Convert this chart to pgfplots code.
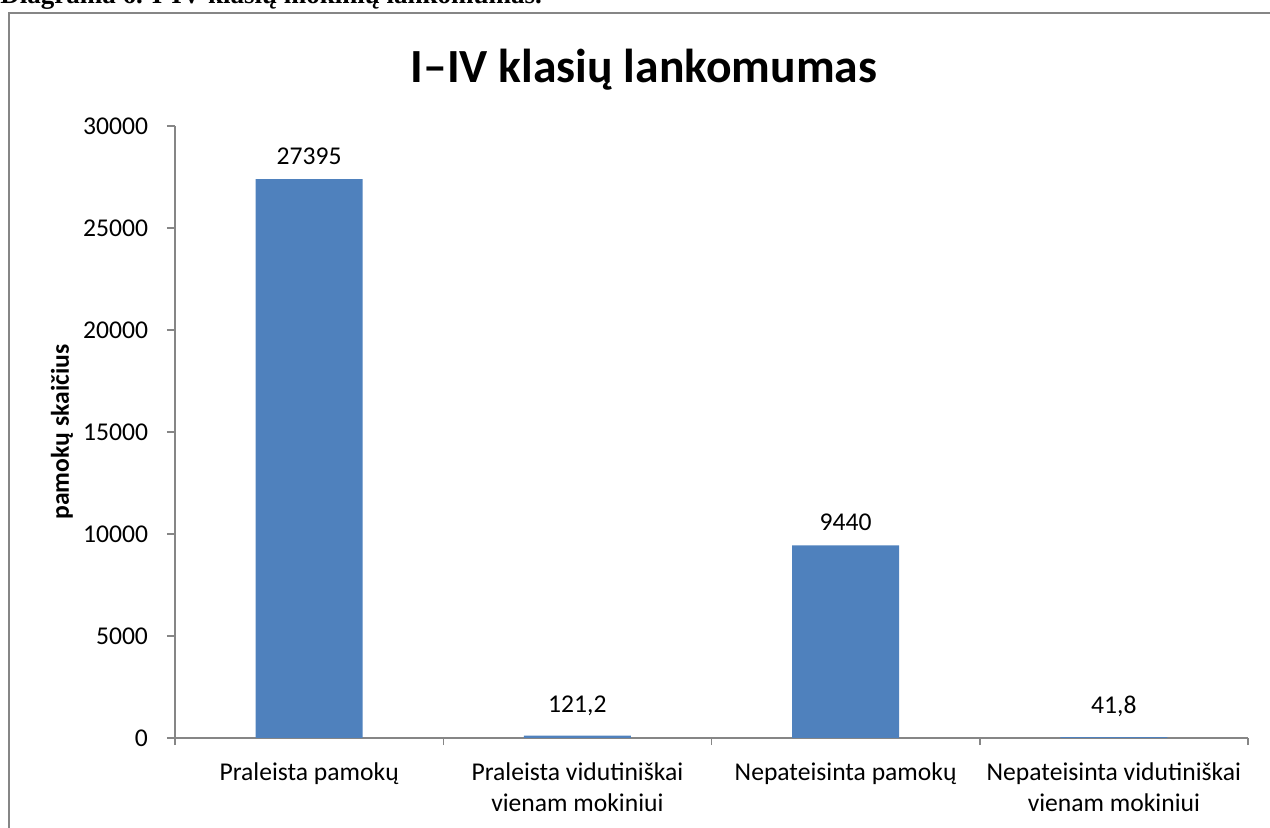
\documentclass[border=0pt]{standalone}
\usepackage{pgfplots}
\pgfplotsset{compat=1.18}
\usepackage{fontspec}
\setmainfont{Carlito}
\newfontfamily\serifb{Liberation Serif}
\definecolor{barblue}{HTML}{4F81BD}
\definecolor{axgray}{HTML}{868686}
\newcommand\dep{\rule[-4.5bp]{0pt}{0pt}}
\begin{document}
\begin{tikzpicture}
\useasboundingbox (0,0) rectangle (635bp,414bp);
\clip (0,0) rectangle (635bp,414bp);
\node[anchor=base west, inner sep=0pt, font=\serifb\bfseries\fontsize{13.5bp}{16bp}\selectfont] at (0,412bp) {Diagrama 6. I-IV klasių mokinių lankomumas.};
\draw[axgray, line width=1bp] (4.5bp,-10bp) -- (4.5bp,407.5bp) -- (650bp,407.5bp);
\node[anchor=base, inner sep=0pt, font=\bfseries\fontsize{23.8bp}{28bp}\selectfont] at (322bp,372.5bp) {I–IV klasių lankomumas};
\begin{axis}[
  at={(87.5bp,45bp)}, anchor=south west,
  scale only axis, width=536.5bp, height=306bp,
  ybar, bar width=53.5bp,
  ymin=0, ymax=30000, ytick={0,5000,10000,15000,20000,25000,30000},
  yticklabels={0,5000,10000,15000,20000,25000,30000},
  scaled y ticks=false,
  xmin=-0.5, xmax=3.5,
  xtick={0,1,2,3},
  xticklabels={Praleista pamokų,Praleista vidutiniškai\\vienam mokiniui,Nepateisinta pamokų,Nepateisinta vidutiniškai\\vienam mokiniui},
  minor xtick={-0.5,0.5,1.5,2.5,3.5},
  major x tick style={draw=none},
  axis x line=bottom, axis y line=left,
  axis line style={axgray, line width=0.75bp, -},
  tick style={axgray, line width=0.75bp},
  tick align=outside,
  major tick length=4bp, minor tick length=3.5bp,
  yticklabel style={font=\fontsize{12.8bp}{15bp}\selectfont, anchor=east, xshift=-6bp},
  xticklabel style={font=\fontsize{12.8bp}{15.5bp}\selectfont, align=center, anchor=north, yshift=-5bp},
  ylabel={pamokų skaičius},
  ylabel style={font=\bfseries\fontsize{12.8bp}{15bp}\selectfont, at={(axis description cs:-0.1053,0.5)}, anchor=center},
  nodes near coords,
  point meta=explicit symbolic,
  nodes near coords style={font=\fontsize{12.8bp}{15bp}\selectfont, text=black, inner sep=0pt, anchor=south, yshift=7bp},
]
\addplot[fill=barblue, draw=none] coordinates {(0,27395) [27395] (1,121.2) [121,2\dep] (2,9440) [9440] (3,41.8) [41,8\dep]};
\end{axis}
\end{tikzpicture}
\end{document}
